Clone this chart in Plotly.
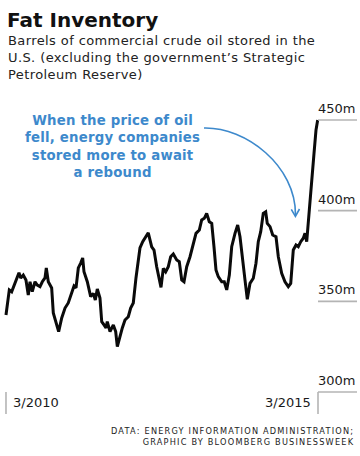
import plotly.graph_objects as go

# ---------------- data ----------------
year_frac = [
    2010.167, 2010.204, 2010.220, 2010.258, 2010.295, 2010.338, 2010.375, 2010.403,
    2010.444, 2010.487, 2010.524, 2010.552, 2010.588, 2010.632, 2010.669, 2010.712,
    2010.749, 2010.792, 2010.813, 2010.845, 2010.872, 2010.899, 2010.925, 2010.968,
    2011.011, 2011.060, 2011.113, 2011.165, 2011.220, 2011.257, 2011.289, 2011.326,
    2011.364, 2011.396, 2011.417, 2011.470, 2011.524, 2011.566, 2011.598, 2011.630,
    2011.673, 2011.701, 2011.738, 2011.770, 2011.790, 2011.834, 2011.887, 2011.925,
    2011.951, 2011.994, 2012.031, 2012.074, 2012.127, 2012.165, 2012.207, 2012.250,
    2012.278, 2012.314, 2012.358, 2012.395, 2012.447, 2012.502, 2012.539, 2012.582,
    2012.614, 2012.651, 2012.688, 2012.726, 2012.768, 2012.806, 2012.848, 2012.903,
    2012.944, 2012.983, 2013.020, 2013.063, 2013.116, 2013.169, 2013.212, 2013.265,
    2013.303, 2013.345, 2013.383, 2013.425, 2013.464, 2013.500, 2013.532, 2013.569,
    2013.624, 2013.665, 2013.704, 2013.746, 2013.784, 2013.837, 2013.880, 2013.917,
    2013.960, 2013.997, 2014.034, 2014.077, 2014.130, 2014.173, 2014.210, 2014.249,
    2014.290, 2014.329, 2014.354, 2014.398, 2014.441, 2014.494, 2014.531, 2014.585,
    2014.638, 2014.691, 2014.730, 2014.771, 2014.814, 2014.851, 2014.890, 2014.931,
    2014.959, 2014.986, 2015.028, 2015.066, 2015.103, 2015.135, 2015.162,
]
barrels_m = [
    342.5, 350.7, 356.3, 355.3, 359.0, 362.9, 365.8, 362.9,
    364.5, 361.8, 353.5, 360.8, 355.3, 360.8, 359.0, 358.1,
    360.8, 362.9, 368.4, 360.8, 359.0, 357.4, 343.6, 338.8,
    333.3, 340.8, 346.3, 349.1, 355.3, 358.5, 357.4, 368.4,
    371.1, 373.9, 366.3, 360.8, 352.6, 354.4, 350.7, 356.8,
    351.8, 338.8, 337.0, 335.3, 338.8, 333.3, 337.0, 333.3,
    325.0, 331.4, 335.3, 339.7, 341.5, 346.3, 349.1, 362.9,
    369.1, 379.4, 382.9, 385.3, 387.8, 380.1, 378.3, 369.1,
    363.6, 357.7, 368.2, 366.3, 369.1, 374.6, 376.1, 372.8,
    371.9, 361.8, 360.8, 369.1, 374.6, 381.1, 387.5, 389.3,
    394.9, 395.8, 398.5, 393.9, 393.0, 380.1, 367.3, 363.6,
    360.8, 360.8, 356.3, 364.5, 380.1, 387.5, 392.1, 385.6,
    371.0, 361.8, 351.1, 359.9, 362.7, 371.0, 382.9, 388.4,
    398.5, 399.4, 393.0, 391.2, 386.6, 385.6, 374.6, 365.5,
    360.8, 358.1, 359.9, 378.3, 381.1, 380.1, 382.9, 384.8,
    387.5, 382.9, 400.4, 418.7, 431.6, 444.5, 450.0,
]
x_tick_vals = [2010.167, 2015.167]
x_tick_labels = ["3/2010", "3/2015"]
y_tick_vals = [300, 350, 400, 450]
y_tick_labels = ["300m", "350m", "400m", "450m"]

title = "Fat Inventory"
subtitle_lines = [
    "Barrels of commercial crude oil stored in the",
    "U.S. (excluding the government\u2019s Strategic",
    "Petroleum Reserve)",
]
note_lines = [
    "When the price of oil",
    "fell, energy companies",
    "stored more to await",
    "a rebound",
]
source_lines = [
    "DATA: ENERGY INFORMATION ADMINISTRATION;",
    "GRAPHIC BY BLOOMBERG BUSINESSWEEK",
]

# ---------------- styling ----------------
W, H = 360, 456
BLUE = "#3d89cc"
GRID = "#b4b4b4"
TXT = "#1a1a1a"
FONT = "DejaVu Sans"


def px(x):
    return x / W


def py(y):
    return 1 - y / H


def spaced(lines, ls):
    return "<br>".join('<span style="letter-spacing:%spx">%s</span>' % (ls, s) for s in lines)


fig = go.Figure()
fig.add_trace(go.Scatter(
    x=year_frac, y=barrels_m, mode="lines",
    line=dict(color="#0a0a0a", width=3, shape="linear"),
    hoverinfo="skip", showlegend=False,
))

shapes = []
annotations = []

# right-hand gridlines + y labels
last_x = x_tick_vals[-1]
for v, lab in zip(y_tick_vals, y_tick_labels):
    shapes.append(dict(type="line", xref="x", yref="y", xsizemode="pixel",
                       xanchor=last_x, x0=0, x1=39, y0=v, y1=v,
                       line=dict(color=GRID, width=1.6)))
    annotations.append(dict(x=px(357), xref="paper", y=v, yref="y",
                            xanchor="right", yanchor="middle", yshift=11.5,
                            text=lab, showarrow=False,
                            font=dict(family=FONT, size=13, color=TXT)))

# x ticks (vertical stubs) + labels
for i, (xv, lab) in enumerate(zip(x_tick_vals, x_tick_labels)):
    shapes.append(dict(type="line", xref="x", yref="y", ysizemode="pixel",
                       yanchor=y_tick_vals[0], x0=xv, x1=xv, y0=0, y1=-22,
                       line=dict(color=GRID, width=1.6)))
    annotations.append(dict(x=xv, xref="x", y=y_tick_vals[0], yref="y",
                            xanchor="left" if i == 0 else "right",
                            xshift=5 if i == 0 else -5,
                            yanchor="middle", yshift=-11,
                            text=lab, showarrow=False,
                            font=dict(family=FONT, size=13, color=TXT)))

# title & subtitle
annotations.append(dict(x=px(5), y=py(20), xref="paper", yref="paper",
                        xanchor="left", yanchor="middle", text=title,
                        showarrow=False,
                        font=dict(family=FONT, size=20, color="#111", weight=800)))
annotations.append(dict(x=px(6), y=py(57), xref="paper", yref="paper",
                        xanchor="left", yanchor="middle", align="left",
                        text=spaced(subtitle_lines, 0.4), showarrow=False,
                        font=dict(family=FONT, size=13, color="#222")))

# blue note
annotations.append(dict(x=px(112), y=py(146), xref="paper", yref="paper",
                        xanchor="center", yanchor="middle", align="center",
                        text=spaced(note_lines, 0.2), showarrow=False,
                        font=dict(family=FONT, size=13.3, color=BLUE, weight=700)))

# curved arrow
arc = "M {} {} C {} {}, {} {}, {} {}".format(
    px(204), py(128), px(246), py(127), px(296), py(166), px(295.5), py(215))
head = "M {} {} L {} {} L {} {}".format(
    px(291.3), py(209.3), px(295.4), py(216.3), px(299.5), py(209))
shapes.append(dict(type="path", xref="paper", yref="paper", path=arc,
                   line=dict(color=BLUE, width=1.6)))
shapes.append(dict(type="path", xref="paper", yref="paper", path=head,
                   line=dict(color=BLUE, width=1.6)))

# source (letter-spaced caps)
annotations.append(dict(x=px(356), y=py(436), xref="paper", yref="paper",
                        xanchor="right", yanchor="middle", align="right",
                        text=spaced(source_lines, 1.2), showarrow=False,
                        font=dict(family=FONT, size=8.2, color="#222")))

# axis ranges chosen so the data sits where it does in the original
fig.update_layout(
    width=W, height=H, autosize=False,
    margin=dict(l=0, r=0, t=0, b=0, pad=0),
    paper_bgcolor="white", plot_bgcolor="white",
    xaxis=dict(range=[2010.071, 2015.840], visible=False, fixedrange=True),
    yaxis=dict(range=[264.70, 516.18], visible=False, fixedrange=True),
    shapes=shapes, annotations=annotations, showlegend=False,
)

fig.write_html("out.html", config={"displayModeBar": False},
               post_script="document.body.style.margin='0';")
